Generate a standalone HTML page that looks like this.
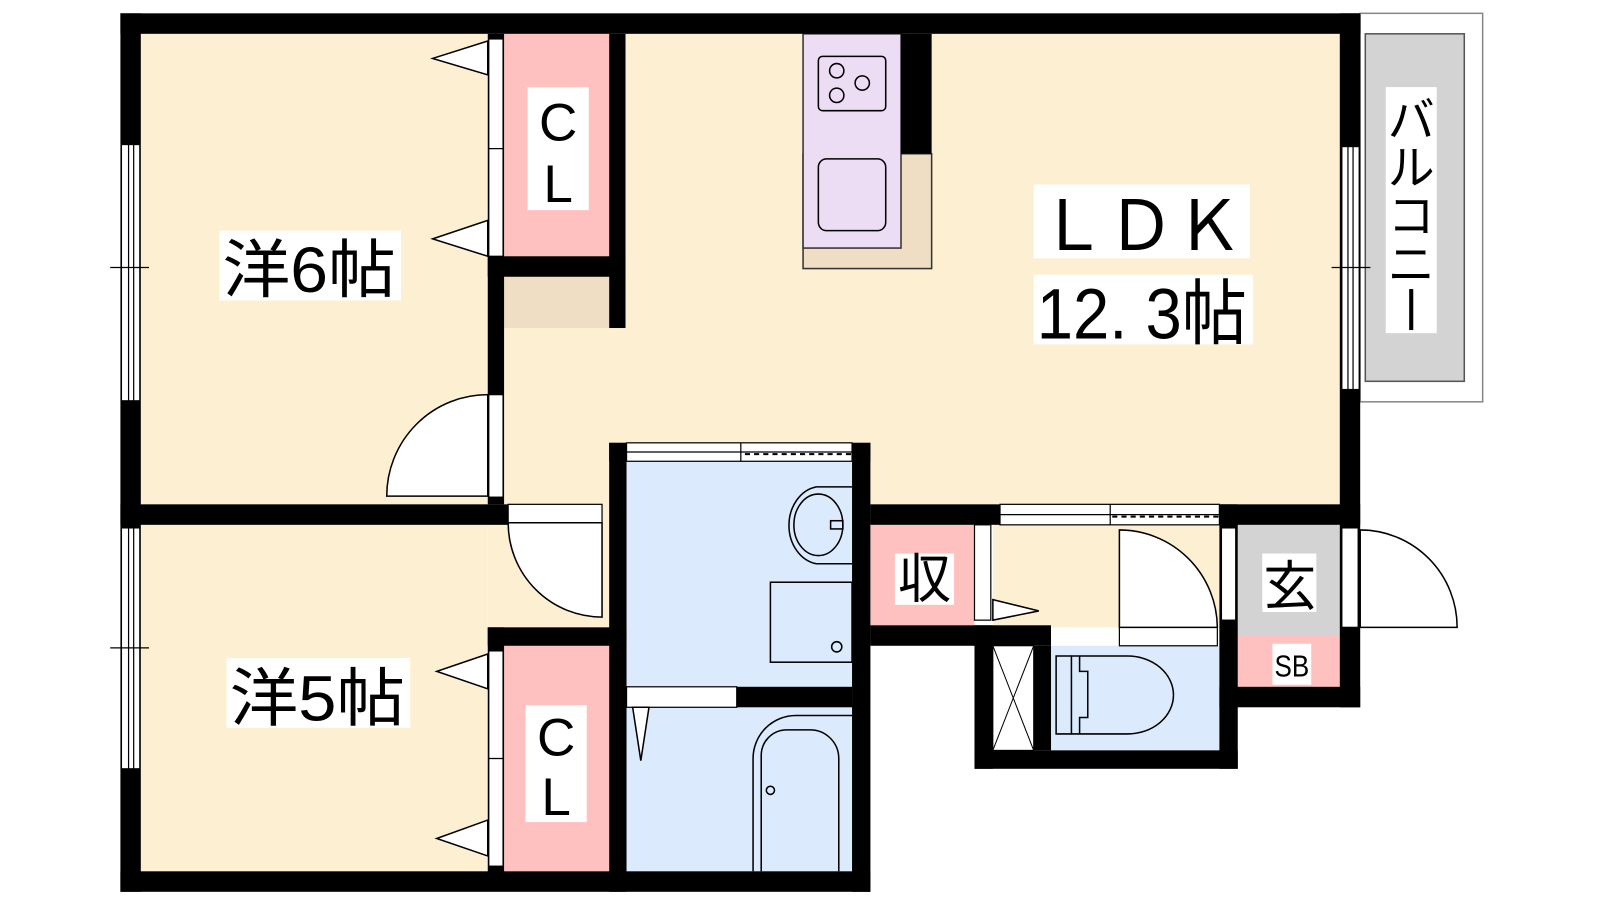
<!DOCTYPE html>
<html><head><meta charset="utf-8"><style>
html,body{margin:0;padding:0;background:#fff;width:1600px;height:900px;overflow:hidden}
svg{display:block}
text{font-family:"Liberation Sans","Noto Sans CJK JP",sans-serif;fill:#000}
</style></head><body>
<svg width="1600" height="900" viewBox="0 0 1568 878" preserveAspectRatio="none">
<!-- floors -->
<rect x="138" y="33" width="340" height="459" fill="#fdf0d2"/>
<rect x="494" y="33" width="819" height="459" fill="#fdf0d2"/>
<rect x="478" y="492" width="120" height="120" fill="#fdf0d2"/>
<rect x="138" y="512" width="340" height="338" fill="#fdf0d2"/>
<rect x="494" y="33" width="103" height="217" fill="#ffc0c0"/>
<rect x="494" y="270" width="103" height="50" fill="#efdec4"/>
<rect x="494" y="630" width="103" height="220" fill="#ffc0c0"/>
<rect x="614" y="450" width="221" height="400" fill="#dbeafd"/>
<rect x="853" y="512" width="102" height="98" fill="#ffc0c0"/>
<rect x="973" y="512" width="222" height="100" fill="#fdf0d2"/>
<rect x="1213" y="512" width="100" height="108" fill="#d3d3d3"/>
<rect x="1213" y="620" width="100" height="50" fill="#ffc0c0"/>
<rect x="1030" y="630" width="165" height="102" fill="#dbeafd"/>
<rect x="973" y="630" width="40" height="102" fill="#fff" stroke="#000" stroke-width="1"/>
<path d="M973 630L1013 732M1013 630L973 732" stroke="#000" stroke-width="1"/>
<!-- balcony -->
<rect x="1333" y="13" width="120" height="379" fill="#fff" stroke="#888" stroke-width="1.5"/>
<rect x="1338" y="33" width="97" height="339" fill="#d3d3d3" stroke="#555" stroke-width="1.5"/>
<!-- kitchen -->
<rect x="787" y="150" width="126" height="112" fill="#efdec4" stroke="#333" stroke-width="1.5"/>
<rect x="787" y="33" width="96" height="209" fill="#ecdcf4" stroke="#333" stroke-width="1.5"/>
<rect x="883" y="33" width="30" height="117" fill="#000"/>
<rect x="802" y="55" width="66" height="53" rx="4" fill="none" stroke="#000" stroke-width="1.5"/>
<circle cx="820" cy="69" r="7" fill="none" stroke="#000" stroke-width="1.5"/>
<circle cx="820" cy="93" r="7" fill="none" stroke="#000" stroke-width="1.5"/>
<circle cx="845" cy="81" r="7" fill="none" stroke="#000" stroke-width="1.5"/>
<rect x="802" y="155" width="66" height="70" rx="8" fill="none" stroke="#000" stroke-width="1.5"/>
<!-- walls -->
<g fill="#000">
<rect x="118" y="13" width="1215" height="20"/>
<rect x="118" y="13" width="20" height="857"/>
<rect x="118" y="850" width="735" height="20"/>
<rect x="1313" y="13" width="20" height="677"/>
<rect x="118" y="492" width="380" height="20"/>
<rect x="478" y="33" width="16" height="459"/>
<rect x="597" y="33" width="16" height="287"/>
<rect x="478" y="250" width="135" height="20"/>
<rect x="597" y="432" width="17" height="438"/>
<rect x="835" y="432" width="18" height="438"/>
<rect x="597" y="432" width="256" height="18"/>
<rect x="478" y="612" width="136" height="18"/>
<rect x="478" y="612" width="16" height="250"/>
<rect x="722" y="670" width="113" height="20"/>
<rect x="853" y="492" width="480" height="20"/>
<rect x="853" y="610" width="177" height="20"/>
<rect x="955" y="610" width="18" height="140"/>
<rect x="1013" y="630" width="17" height="102"/>
<rect x="955" y="732" width="258" height="18"/>
<rect x="1195" y="492" width="18" height="258"/>
<rect x="1195" y="670" width="138" height="20"/>
</g>
<!-- windows / openings -->
<g fill="#fff" stroke="#000" stroke-width="1.2">
<rect x="119" y="141" width="18" height="250"/>
<rect x="119" y="515" width="18" height="235"/>
<rect x="1315" y="143" width="17" height="237"/>
<rect x="614" y="432" width="221" height="18"/>
<rect x="980" y="492" width="215" height="20"/>
<rect x="479" y="38" width="14" height="107"/>
<rect x="479" y="145" width="14" height="105"/>
<rect x="479" y="385" width="14" height="100"/>
<rect x="479" y="635" width="14" height="105"/>
<rect x="479" y="740" width="14" height="105"/>
<rect x="498" y="492" width="92" height="18"/>
<rect x="955" y="512" width="16" height="93"/>
<rect x="1197" y="515" width="14" height="90"/>
<rect x="1315" y="515" width="16" height="97"/>
<rect x="614" y="670" width="108" height="20"/>
<rect x="1097" y="612" width="96" height="18"/>
</g>
<g stroke="#000" stroke-width="1.2" fill="none">
<line x1="126" y1="141" x2="126" y2="391"/><line x1="131" y1="141" x2="131" y2="391"/>
<line x1="126" y1="515" x2="126" y2="750"/><line x1="131" y1="515" x2="131" y2="750"/>
<line x1="1321" y1="143" x2="1321" y2="380"/><line x1="1326" y1="143" x2="1326" y2="380"/>
<line x1="108" y1="261" x2="146" y2="261"/><line x1="108" y1="632" x2="146" y2="632"/>
<line x1="1305" y1="261" x2="1343" y2="261"/>
<line x1="614" y1="441" x2="835" y2="441"/><line x1="726" y1="432" x2="726" y2="450"/>
<line x1="730" y1="443" x2="835" y2="443" stroke-dasharray="5,4" stroke-width="2"/>
<line x1="980" y1="502" x2="1195" y2="502"/><line x1="1088" y1="492" x2="1088" y2="512"/>
<line x1="1090" y1="504" x2="1195" y2="504" stroke-dasharray="5,4" stroke-width="2"/>
</g>
<!-- doors -->
<g fill="#fff" stroke="#000" stroke-width="1.5">
<path d="M478 385 A99 99 0 0 0 379 484 L478 484 Z"/>
<path d="M498 510 A92 92 0 0 0 590 602 L590 510 Z"/>
<path d="M1097 517 A96 96 0 0 1 1193 612 L1097 612 Z"/>
<path d="M1333 517 A95 95 0 0 1 1428 612 L1333 612 Z"/>
<path d="M478 40 L424 57 L478 73 Z"/>
<path d="M478 215 L424 233 L478 250 Z"/>
<path d="M478 638 L428 655 L478 672 Z"/>
<path d="M478 800 L428 818 L478 835 Z"/>
<path d="M973 585 L1018 596 L973 605 Z"/>
<path d="M620 690 L628 742 L636 690 Z"/>
</g>
<!-- washroom fixtures -->
<g fill="none" stroke="#000" stroke-width="1.5">
<path d="M835 475 L800 475 A32 38 0 0 0 800 550 L835 550"/>
<ellipse cx="802" cy="512" rx="24" ry="30"/>
<rect x="814" y="508" width="12" height="8"/>
<rect x="755" y="568" width="80" height="78"/>
<circle cx="820" cy="631" r="5"/>
<path d="M835 698 L780 698 A42 42 0 0 0 738 740 L738 850"/>
<path d="M822 850 L822 740 A28 28 0 0 0 794 712 L770 712 A25 25 0 0 0 746 737 L746 850"/>
<circle cx="755" cy="771" r="4"/>
<path d="M1035 640 L1050 640 L1050 716 L1035 716 Z"/>
<path d="M1050 640 L1105 640 A45 38 0 0 1 1105 716 L1050 716"/>
<path d="M1058 640 L1058 655 L1066 655 L1066 700 L1058 700 L1058 716"/>
</g>
<!-- labels -->
<g fill="#fff">
<rect x="215" y="225" width="178" height="68"/>
<rect x="517" y="85" width="60" height="120"/>
<rect x="222" y="642" width="180" height="68"/>
<rect x="515" y="688" width="60" height="114"/>
<rect x="1013" y="180" width="212" height="72"/>
<rect x="1013" y="268" width="215" height="68"/>
<rect x="877" y="540" width="58" height="50"/>
<rect x="1237" y="540" width="53" height="57"/>
<rect x="1247" y="628" width="38" height="40"/>
<rect x="1358" y="85" width="50" height="240"/>
</g>
<text x="218" y="285" font-size="62" textLength="170" lengthAdjust="spacingAndGlyphs">洋6帖</text>
<text x="547" y="137" font-size="52" text-anchor="middle">C</text>
<text x="547" y="197" font-size="52" text-anchor="middle">L</text>
<text x="225" y="703" font-size="62" textLength="172" lengthAdjust="spacingAndGlyphs">洋5帖</text>
<text x="545" y="737" font-size="52" text-anchor="middle">C</text>
<text x="545" y="795" font-size="52" text-anchor="middle">L</text>
<text x="1018" y="244" font-size="68" textLength="200" lengthAdjust="spacingAndGlyphs">ＬＤＫ</text>
<text x="1016" y="330" font-size="70" textLength="206" lengthAdjust="spacingAndGlyphs">12. 3帖</text>
<text x="906" y="583" font-size="52" text-anchor="middle">収</text>
<text x="1264" y="590" font-size="52" text-anchor="middle">玄</text>
<text x="1266" y="660" font-size="30" text-anchor="middle" textLength="34" lengthAdjust="spacingAndGlyphs">SB</text>
<text x="1383" y="133" font-size="46" text-anchor="middle">バ</text>
<text x="1383" y="180" font-size="46" text-anchor="middle">ル</text>
<text x="1383" y="227" font-size="46" text-anchor="middle">コ</text>
<text x="1383" y="274" font-size="46" text-anchor="middle">ニ</text>
<rect x="1381" y="282" width="4" height="40" fill="#000"/>
</svg>
</body></html>
